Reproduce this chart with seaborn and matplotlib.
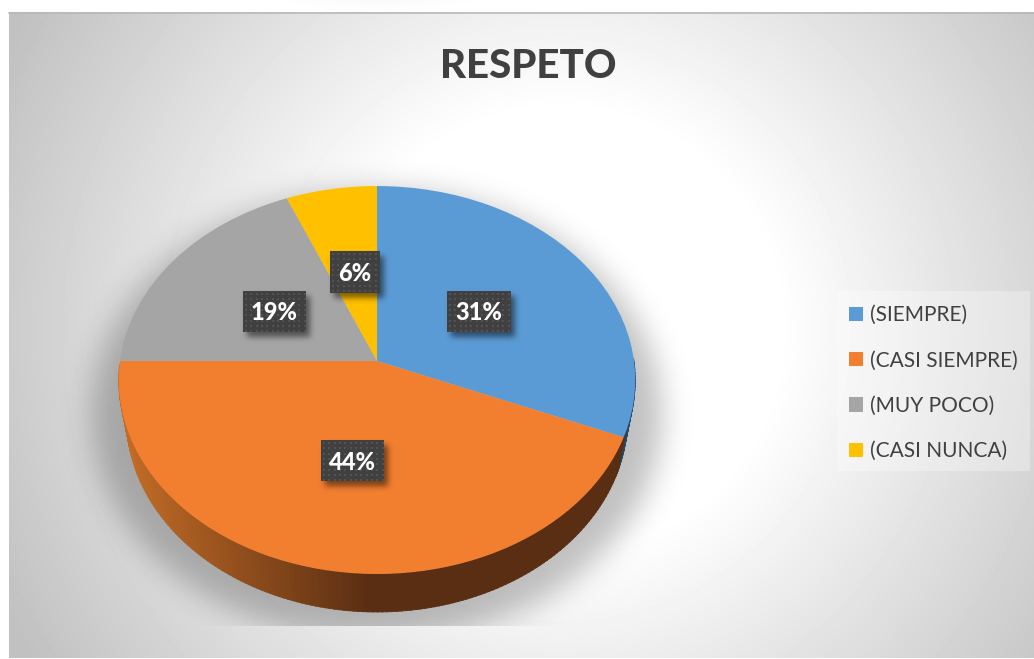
import numpy as np
import matplotlib
matplotlib.use("Agg")
import matplotlib.pyplot as plt
import seaborn as sns
from matplotlib.patches import Rectangle
from matplotlib.transforms import Transform

# respuestas por categoria
categorias = ["(SIEMPRE)", "(CASI SIEMPRE)", "(MUY POCO)", "(CASI NUNCA)"]
respuestas = [5, 7, 3, 1]
colores = ["#5B9BD5", "#F27E30", "#A5A5A5", "#FFC000"]
titulo = "RESPETO"

W, H = 1034, 659
CX, CY = 377.0, 361.0
A, B, P = 257.0, 192.1, 0.098
PROF = 38.0
ESCALA_BASE = 0.97


class Perspectiva(Transform):
    """Lleva el circulo unidad del pie a la elipse en perspectiva (en pixeles)."""
    input_dims = 2
    output_dims = 2
    is_separable = False
    has_inverse = False

    def transform_non_affine(self, values):
        values = np.asarray(values, dtype=float)
        w = 1 + P * values[:, 1]
        return np.column_stack([CX + A * values[:, 0] / w, CY - B * values[:, 1] / w])


def desenfocar(img, sigma):
    fy = np.fft.fftfreq(img.shape[0])[:, None]
    fx = np.fft.rfftfreq(img.shape[1])[None, :]
    g = np.exp(-2 * (np.pi * sigma) ** 2 * (fx ** 2 + fy ** 2))
    return np.fft.irfft2(np.fft.rfft2(img) * g, s=img.shape)


def capa_sombra(alpha):
    capa = np.zeros((H, W, 4))
    capa[..., 3] = np.clip(alpha, 0, 1)
    return capa


sns.set_theme(style="white")
plt.rcParams["font.family"] = ["Lato", "DejaVu Sans"]
paleta = sns.color_palette(colores)

fig = plt.figure(figsize=(W / 100, H / 100), dpi=100, facecolor="white")
ax = fig.add_axes([0, 0, 1, 1])

wedges, _, autotextos = ax.pie(respuestas, colors=paleta, startangle=90, counterclock=False,
                               autopct="%.0f%%", wedgeprops={"linewidth": 0, "zorder": 3})
ax.set_aspect("auto")
ax.set_xlim(0, W)
ax.set_ylim(H, 0)
ax.axis("off")

persp = Perspectiva()
for w in wedges:
    w.set_transform(persp + ax.transData)

# fondo con degradado radial
yy, xx = np.mgrid[0:H, 0:W] + 0.5
t = np.clip((np.hypot(xx - 560, yy - 330) - 220) / 400, 0, 1)
fondo = 255 - 62 * t
ax.imshow(fondo[12:658, 9:], cmap="gray", vmin=0, vmax=255, extent=(9, W, 658, 12),
          aspect="auto", zorder=0, interpolation="nearest")
ax.plot([9, W], [12.5, 12.5], color="#B8B8B8", lw=1.2, zorder=1)

# sombra difusa del pie, cortada abajo
m = (((xx - CX) / 285) ** 2 + ((yy - 415) / 225) ** 2 <= 1).astype(float)
sombra = desenfocar(m, 15) * 0.25
sombra[626:, :] = 0
ax.imshow(capa_sombra(sombra), extent=(0, W, H, 0), aspect="auto", zorder=1)

# pared lateral del pie
oscuro = np.array(sns.color_palette(["#5A2E12"])[0])
claro = np.array(sns.color_palette(["#C26C26"])[0])
for w, tipo in zip(wedges, ["azul", "naranja", "", ""]):
    if not tipo:
        continue
    angs = np.arange(w.theta1, w.theta2 + 1.0, 1.0) % 360
    angs = angs[angs > 180]
    for a0 in angs:
        th = np.radians([a0, a0 + 1.2])
        arriba = persp.transform_non_affine(np.column_stack([np.cos(th), np.sin(th)]))
        abajo = arriba.copy()
        abajo[:, 0] = CX + (arriba[:, 0] - CX) * ESCALA_BASE
        abajo[:, 1] += PROF
        xm = arriba[:, 0].mean()
        if tipo == "azul":
            col = "#1F4A70"
        else:
            k = np.clip((xm - 125) / 245, 0, 1)
            col = tuple(claro + (oscuro - claro) * k)
        pts = np.vstack([arriba, abajo[::-1]])
        ax.fill(pts[:, 0], pts[:, 1], color=col, lw=0.6, zorder=2)

# etiquetas con caja oscura punteada
cajas = [(447, 291, 64, 41), (321, 440, 63, 41), (243, 291, 63, 41), (330, 251, 50, 42)]
m_cajas = np.zeros((H, W))
for x0, y0, bw, bh in cajas:
    m_cajas[y0 + 5:y0 + 5 + bh, x0 + 4:x0 + 4 + bw] = 1
ax.imshow(capa_sombra(desenfocar(m_cajas, 3) * 0.5), extent=(0, W, H, 0), aspect="auto", zorder=4)

for txt, (x0, y0, bw, bh) in zip(autotextos, cajas):
    ax.add_patch(Rectangle((x0, y0), bw, bh, facecolor="#404040", edgecolor="none", zorder=5))
    px, py = np.meshgrid(np.arange(x0 + 3, x0 + bw, 5.33), np.arange(y0 + 3, y0 + bh, 5.33))
    ax.scatter(px.ravel(), py.ravel(), s=1.6, marker="s", color="#525252", linewidths=0, zorder=6)
    txt.set_position((x0 + bw / 2, y0 + bh / 2 + 1.5))
    txt.set(ha="center", va="center", color="white", fontweight="black", fontsize=17, zorder=7,
            transform=ax.transData)

ax.text(528, 67, titulo, ha="center", va="center", fontsize=29, fontweight="black", color="#404040", zorder=7)

# leyenda: fondo aparte para fijar la caja
ax.add_patch(Rectangle((837, 291), 193, 180, facecolor="white", alpha=0.3, edgecolor="none", zorder=6))
ley = ax.legend(wedges, categorias, loc="upper left", bbox_to_anchor=(849, 305),
                bbox_transform=ax.transData, frameon=False, fontsize=15, labelcolor="#404040",
                handlelength=0.67, handleheight=0.67, handletextpad=0.34, labelspacing=1.22,
                borderaxespad=0, borderpad=0)
ley.set_zorder(7)

fig.savefig("out.png", dpi=100, facecolor="white")
